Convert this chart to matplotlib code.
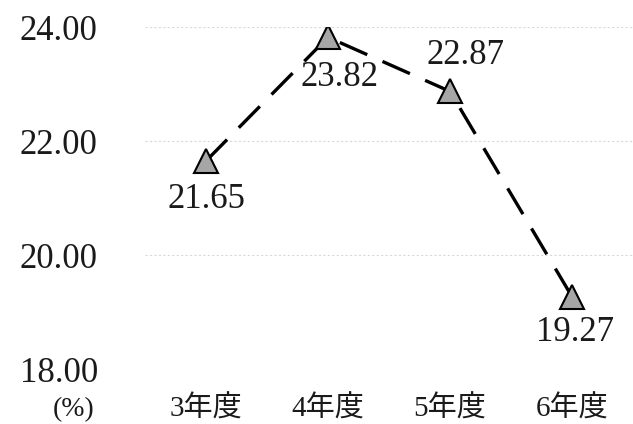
import matplotlib.pyplot as plt

# data
years = ['3年度', '4年度', '5年度', '6年度']
rates = [21.65, 23.82, 22.87, 19.27]
label_offsets = [(0, -39), (12, -40), (16, 36), (3, -36)]  # px, for the value labels
y_ticks = [18, 20, 22, 24]

plt.rcParams['font.family'] = ['Liberation Serif', 'Noto Sans CJK JP']

fig = plt.figure(figsize=(6.33, 4.24), dpi=100)
ax = fig.add_axes([145 / 633, 55 / 424, 488 / 633, 342 / 424])

x = list(range(len(years)))
ax.plot(x, rates, color='black', lw=2.4, linestyle=(0, (9, 5)),
        marker='^', markersize=17, markerfacecolor='#a6a6a6',
        markeredgecolor='black', markeredgewidth=1.5, zorder=3)

for xi, v, (dx, dy) in zip(x, rates, label_offsets):
    ax.annotate(f'{v:.2f}', (xi, v), xytext=(dx * 0.72, dy * 0.72),
                textcoords='offset points', ha='center', va='center',
                fontsize=25, color='#1a1a1a')

ax.set_xlim(-0.5, len(years) - 0.5)
ax.set_ylim(18, 24)
ax.set_xticks(x)
ax.set_xticklabels(years, fontsize=21)
ax.set_yticks(y_ticks)
ax.set_yticklabels([f'{t:.2f}' for t in y_ticks], fontsize=25)
ax.tick_params(length=0, colors='#1a1a1a')
ax.tick_params(axis='y', pad=34)
ax.tick_params(axis='x', pad=19)
ax.grid(axis='y', color='#d9d9d9', linestyle=(0, (2, 2)), lw=0.8)
ax.set_axisbelow(True)
for s in ax.spines.values():
    s.set_visible(False)

fig.text(74 / 633, 1 - 410 / 424, '(%)', ha='center', va='center',
         fontsize=20, color='#1a1a1a')

fig.savefig('out.png', dpi=100)
